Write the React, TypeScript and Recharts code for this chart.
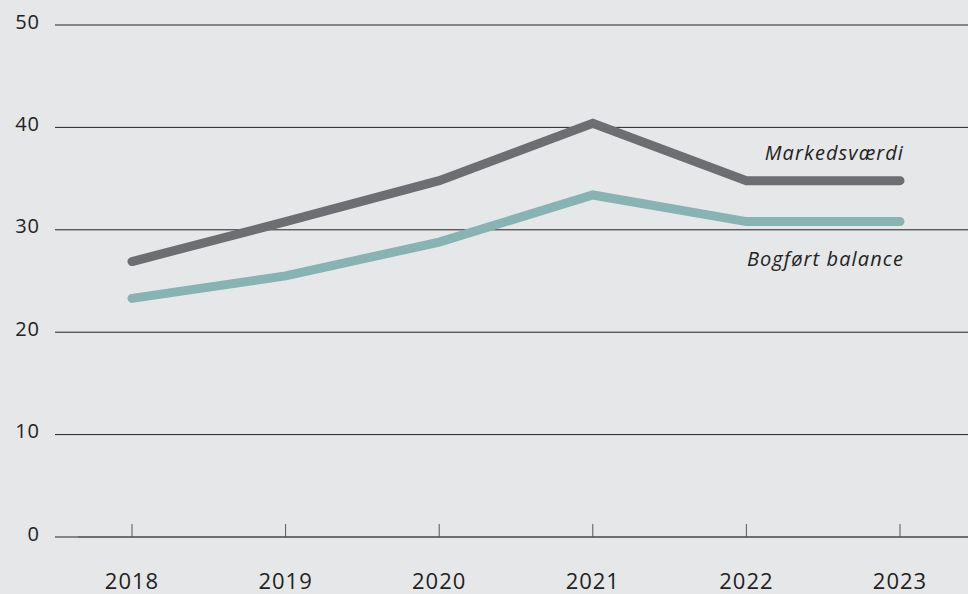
import { CartesianGrid, LabelList, Line, LineChart, XAxis, YAxis } from "recharts";

const years = ["2018", "2019", "2020", "2021", "2022", "2023"];
const markedsvaerdi = [26.9, 30.8, 34.8, 40.4, 34.8, 34.8];
const bogfoert = [23.3, 25.5, 28.8, 33.4, 30.8, 30.8];
const yTicks = [0, 10, 20, 30, 40, 50];

const data = years.map((year, i) => ({
  year,
  marked: markedsvaerdi[i],
  bogf: bogfoert[i],
}));

const FONT = "'Open Sans', Lato, sans-serif";

// Series name written once, next to the last point of the line.
function endLabel(name: string, dy: number) {
  return (props: any) => {
    if (props.index !== years.length - 1) return null;
    return (
      <text
        x={props.x + 4}
        y={props.y + dy}
        textAnchor="end"
        dominantBaseline="central"
        fontFamily={FONT}
        fontStyle="italic"
        fontSize={20}
        letterSpacing={1.1}
        fill="#222"
      >
        {name}
      </text>
    );
  };
}

function YTick(props: any) {
  const { x, y, payload } = props;
  return (
    <text
      x={x}
      y={y - 4}
      textAnchor="end"
      dominantBaseline="central"
      fontFamily={FONT}
      fontSize={20}
      letterSpacing={1}
      fill="#222"
    >
      {payload.value}
    </text>
  );
}

export default function App() {
  return (
    <div style={{ position: "absolute", left: 0, top: 0, width: 968, height: 594, background: "#e6e7e8" }}>
      <LineChart width={968} height={594} data={data} margin={{ top: 25, right: 0, bottom: 0, left: 0 }}>
        <CartesianGrid horizontal vertical={false} stroke="#222" strokeWidth={1} strokeDasharray="" />
        <XAxis
          dataKey="year"
          height={57}
          padding={{ left: 54, right: 68 }}
          axisLine={{ stroke: "#6d6e71", strokeWidth: 2 }}
          tickLine={{ stroke: "#555" }}
          tickSize={-13}
          tickMargin={49}
          tick={{ fontFamily: FONT, fontSize: 22, letterSpacing: 1, fill: "#222" }}
        />
        <YAxis
          width={78}
          domain={[0, 50]}
          ticks={yTicks}
          axisLine={false}
          tickLine={{ stroke: "#222" }}
          tickSize={23}
          tickMargin={15}
          tick={<YTick />}
        />
        <Line
          type="linear"
          dataKey="marked"
          stroke="#6d6e71"
          strokeWidth={9}
          strokeLinecap="round"
          dot={false}
          isAnimationActive={false}
        >
          <LabelList dataKey="marked" content={endLabel("Markedsværdi", -28)} />
        </Line>
        <Line
          type="linear"
          dataKey="bogf"
          stroke="#87b3b3"
          strokeWidth={9}
          strokeLinecap="round"
          dot={false}
          isAnimationActive={false}
        >
          <LabelList dataKey="bogf" content={endLabel("Bogført balance", 37)} />
        </Line>
      </LineChart>
    </div>
  );
}
